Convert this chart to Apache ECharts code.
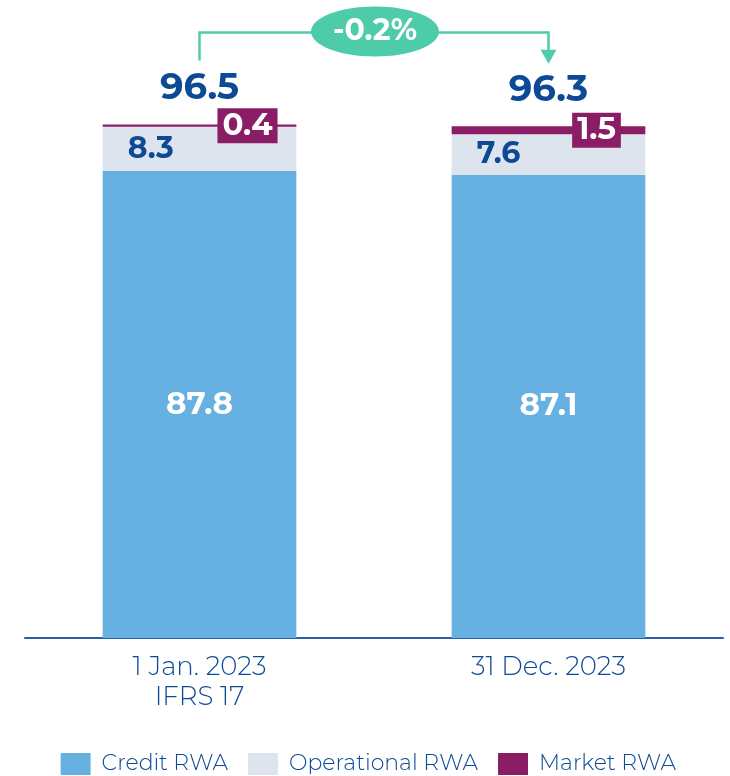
<!DOCTYPE html>
<html>
<head>
<meta charset="utf-8">
<script src="https://cdn.jsdelivr.net/npm/echarts@6/dist/echarts.min.js"></script>
<style>html,body{margin:0;padding:0;background:#fff}#c{width:730px;height:776px}</style>
</head>
<body>
<div id="c"></div>
<script>
var categories = ['1 Jan. 2023\nIFRS 17', '31 Dec. 2023'];
var creditRWA = [87.8, 87.1];
var operationalRWA = [8.3, 7.6];
var marketRWA = [0.4, 1.5];
var totals = [96.5, 96.3];
var changeLabel = '-0.2%';
var seriesNames = ['Credit RWA', 'Operational RWA', 'Market RWA'];

var FONT = 'Montserrat, "Open Sans", sans-serif';
var DARK = '#0d4a96';
var TEAL = '#4ecba9';

var chart = echarts.init(document.getElementById('c'), null, {renderer: 'canvas'});
chart.setOption({
  animation: false,
  textStyle: {fontFamily: FONT},
  grid: {left: 25, right: 7, top: 106, bottom: 138},
  legend: {
    bottom: 1, right: 54, padding: 0,
    itemWidth: 30, itemHeight: 22, itemGap: 20,
    icon: 'rect',
    textStyle: {fontSize: 22, fontWeight: 300, color: DARK, fontFamily: FONT, padding: [0, 0, 0, 6]},
    data: seriesNames
  },
  xAxis: {
    type: 'category', data: categories,
    axisLine: {lineStyle: {color: '#2a5fa8', width: 2}},
    axisTick: {show: false},
    axisLabel: {fontSize: 26, fontWeight: 300, color: DARK, lineHeight: 30, margin: 14, fontFamily: FONT}
  },
  yAxis: {type: 'value', min: 0, max: 100, show: false, splitLine: {show: false}},
  series: [
    {
      name: seriesNames[0], type: 'bar', stack: 'rwa', barWidth: '55.5%',
      itemStyle: {color: '#66b1e1'}, data: creditRWA,
      label: {show: true, position: 'inside', color: '#fff', fontSize: 31, fontWeight: 'bold', fontFamily: FONT}
    },
    {
      name: seriesNames[1], type: 'bar', stack: 'rwa',
      itemStyle: {color: '#dde4ee'}, data: operationalRWA,
      label: {show: true, position: 'insideLeft', distance: 25, color: DARK, fontSize: 30, fontWeight: 'bold', fontFamily: FONT}
    },
    {
      name: seriesNames[2], type: 'bar', stack: 'rwa',
      itemStyle: {color: '#8b1d66'}, data: marketRWA,
      label: {show: true, position: 'inside', offset: [48, 0], color: '#fff', fontSize: 31, fontWeight: 'bold',
        fontFamily: FONT, backgroundColor: '#8b1d66', padding: [3, 5, 1, 5]}
    },
    {
      type: 'scatter', data: totals, symbolSize: 1, silent: true,
      itemStyle: {color: 'rgba(0,0,0,0)', opacity: 1},
      label: {show: true, position: 'top', distance: 17, color: DARK, fontSize: 37, fontWeight: 'bold', fontFamily: FONT}
    }
  ]
});

var p0 = chart.convertToPixel({seriesIndex: 0}, [0, totals[0]]);
var p1 = chart.convertToPixel({seriesIndex: 0}, [1, totals[1]]);
var lineY = p0[1] - 92;
var leftBottom = p0[1] - 64;
var tipY = p1[1] - 62;
var midX = (p0[0] + p1[0]) / 2;
chart.setOption({
  graphic: [
    {type: 'polyline', shape: {points: [[p0[0], leftBottom], [p0[0], lineY], [p1[0], lineY], [p1[0], tipY - 12]]},
      style: {stroke: TEAL, lineWidth: 2.5, fill: null}},
    {type: 'polygon', shape: {points: [[p1[0] - 8, tipY - 14], [p1[0] + 8, tipY - 14], [p1[0], tipY]]},
      style: {fill: TEAL}},
    {type: 'ellipse', shape: {cx: midX + 1, cy: lineY - 1, rx: 64, ry: 25}, style: {fill: TEAL}},
    {type: 'text', x: midX + 1, y: lineY - 1, style: {text: changeLabel, fill: '#fff', font: 'bold 30px ' + FONT,
      align: 'center', verticalAlign: 'middle'}}
  ]
});
</script>
</body>
</html>
